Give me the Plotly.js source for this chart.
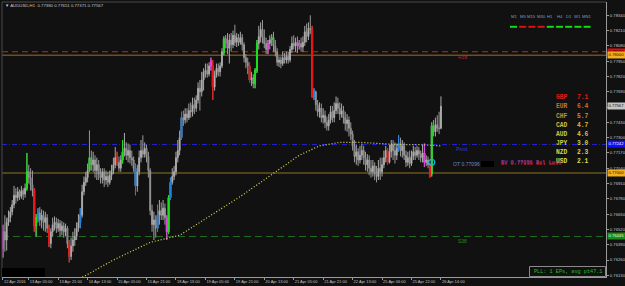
<!DOCTYPE html>
<html><head><meta charset="utf-8">
<script src="https://cdn.plot.ly/plotly-3.0.1.min.js"></script>
<style>html,body{margin:0;padding:0;background:#111111;}#chart{width:625px;height:286px;}</style>
</head><body><div id="chart"></div>
<script>
// ---- data (AUDUSD H1) ----
const O = [.7636,.7650,.7643,.7658,.7662,.7667,.7673,.7681,.7679,.7684,
.7680,.7685,.7682,.7687,.7701,.7696,.7690,.7685,.7655,.7662,
.7666,.7660,.7664,.7658,.7662,.7653,.7640,.7650,.7656,.7658,
.7653,.7657,.7651,.7655,.7650,.7653,.7640,.7629,.7638,.7643,
.7646,.7653,.7658,.7664,.7684,.7692,.7696,.7702,.7713,.7707,
.7711,.7702,.7707,.7699,.7696,.7701,.7694,.7697,.7692,.7698,
.7702,.7707,.7713,.7709,.7704,.7711,.7718,.7721,.7715,.7719,
.7713,.7711,.7704,.7689,.7701,.7713,.7719,.7716,.7721,.7714,
.7702,.7668,.7656,.7660,.7653,.7664,.7668,.7664,.7670,.7662,
.7650,.7679,.7692,.7697,.7701,.7713,.7719,.7730,.7747,.7745,
.7750,.7747,.7753,.7752,.7758,.7755,.7762,.7772,.7769,.7779,
.7786,.7787,.7784,.7791,.7791,.7773,.7783,.7789,.7786,.7791,
.7802,.7814,.7810,.7806,.7813,.7809,.7817,.7811,.7815,.7811,
.7815,.7809,.7798,.7794,.7791,.7779,.7781,.7776,.7787,.7810,
.7816,.7822,.7815,.7810,.7805,.7810,.7813,.7815,.7808,.7803,
.7794,.7796,.7793,.7798,.7796,.7799,.7796,.7805,.7810,.7808,
.7811,.7808,.7810,.7807,.7811,.7820,.7816,.7823,.7822,.7765,
.7769,.7758,.7752,.7755,.7747,.7749,.7743,.7740,.7745,.7752,
.7747,.7753,.7759,.7755,.7750,.7753,.7747,.7742,.7745,.7738,
.7733,.7723,.7714,.7718,.7711,.7715,.7719,.7713,.7707,.7711,
.7704,.7701,.7706,.7699,.7697,.7704,.7701,.7707,.7713,.7719,
.7709,.7718,.7724,.7719,.7715,.7721,.7725,.7719,.7723,.7715,
.7709,.7713,.7708,.7714,.7718,.7715,.7719,.7716,.7713,.7717,
.7709,.7711,.7707,.7699,.7740,.7735,.7741,.7738,.77380];
const H = [.7656,.7664,.7662,.7668,.7671,.7677,.7689,.7687,.7688,.7686,
.7689,.7687,.7691,.7717,.7707,.7704,.7702,.7687,.7665,.7670,
.7671,.7669,.7668,.7667,.7665,.7656,.7653,.7662,.7663,.7662,
.7661,.7660,.7659,.7658,.7657,.7655,.7643,.7645,.7650,.7653,
.7658,.7665,.7670,.7690,.7697,.7701,.7708,.7736,.7719,.7718,
.7715,.7713,.7711,.7704,.7704,.7704,.7702,.7701,.7702,.7707,
.7713,.7722,.7718,.7714,.7715,.7728,.7734,.7726,.7725,.7724,
.7719,.7714,.7708,.7707,.7719,.7728,.7732,.7726,.7724,.7718,
.7704,.7673,.7667,.7664,.7673,.7677,.7675,.7677,.7674,.7664,
.7681,.7696,.7704,.7706,.7718,.7728,.7736,.7752,.7753,.7755,
.7755,.7759,.7760,.7764,.7764,.7766,.7777,.7779,.7786,.7789,
.7793,.7793,.7794,.7798,.7796,.7787,.7793,.7793,.7794,.7806,
.7816,.7817,.7819,.7818,.7819,.7821,.7826,.7819,.7818,.7820,
.7818,.7811,.7801,.7798,.7794,.7786,.7784,.7789,.7813,.7825,
.7828,.7830,.7822,.7815,.7813,.7817,.7818,.7820,.7813,.7806,
.7799,.7799,.7803,.7802,.7803,.7803,.7808,.7816,.7817,.7815,
.7816,.7813,.7815,.7816,.7825,.7827,.7828,.7834,.7825,.7772,
.7770,.7762,.7760,.7759,.7755,.7753,.7748,.7750,.7757,.7757,
.7760,.7765,.7764,.7760,.7759,.7757,.7752,.7750,.7748,.7743,
.7736,.7728,.7724,.7721,.7723,.7725,.7723,.7718,.7716,.7715,
.7711,.7711,.7709,.7706,.7711,.7713,.7713,.7719,.7723,.7721,
.7724,.7728,.7728,.7726,.7725,.7732,.7730,.7728,.7726,.7719,
.7718,.7719,.7719,.7723,.7722,.7723,.7722,.7719,.7724,.7725,
.7715,.7714,.7708,.7743,.7745,.7747,.7749,.7752,.77651];
const L = [.7628,.7633,.7634,.7655,.7658,.7664,.7670,.7674,.7676,.7677,
.7678,.7677,.7679,.7685,.7691,.7685,.7680,.7650,.7646,.7658,
.7655,.7653,.7651,.7650,.7649,.7637,.7636,.7646,.7651,.7649,
.7650,.7646,.7647,.7645,.7646,.7636,.7624,.7626,.7633,.7638,
.7643,.7650,.7653,.7662,.7681,.7689,.7692,.7701,.7702,.7701,
.7696,.7694,.7694,.7691,.7691,.7688,.7690,.7688,.7690,.7694,
.7699,.7704,.7706,.7701,.7701,.7708,.7714,.7711,.7709,.7708,
.7706,.7701,.7681,.7684,.7698,.7709,.7713,.7713,.7709,.7696,
.7664,.7650,.7643,.7645,.7650,.7656,.7660,.7660,.7656,.7643,
.7648,.7677,.7690,.7694,.7698,.7709,.7715,.7728,.7740,.7742,
.7743,.7745,.7747,.7748,.7750,.7752,.7759,.7753,.7765,.7770,
.7781,.7781,.7782,.7787,.7762,.7770,.7781,.7782,.7782,.7789,
.7800,.7806,.7801,.7793,.7803,.7806,.7808,.7807,.7808,.7809,
.7804,.7794,.7789,.7784,.7777,.7774,.7772,.7772,.7785,.7805,
.7811,.7810,.7806,.7801,.7801,.7805,.7808,.7803,.7799,.7791,
.7790,.7789,.7791,.7793,.7793,.7793,.7794,.7802,.7805,.7803,
.7802,.7805,.7803,.7803,.7808,.7811,.7813,.7818,.7764,.7762,
.7753,.7748,.7747,.7743,.7742,.7738,.7736,.7736,.7742,.7743,
.7743,.7750,.7750,.7745,.7747,.7742,.7736,.7735,.7731,.7728,
.7719,.7709,.7707,.7706,.7708,.7711,.7707,.7702,.7701,.7698,
.7696,.7697,.7694,.7692,.7694,.7694,.7697,.7704,.7709,.7707,
.7708,.7713,.7711,.7708,.7711,.7718,.7714,.7713,.7711,.7705,
.7706,.7704,.7706,.7711,.7711,.7713,.7711,.7709,.7709,.7705,
.7706,.7704,.7696,.7697,.7731,.7731,.7735,.7733,.77371];
const C = [.7650,.7643,.7658,.7662,.7667,.7673,.7681,.7679,.7684,.7680,
.7685,.7682,.7687,.7701,.7696,.7690,.7685,.7655,.7662,.7666,
.7660,.7664,.7658,.7662,.7653,.7640,.7650,.7656,.7658,.7653,
.7657,.7651,.7655,.7650,.7653,.7640,.7629,.7638,.7643,.7646,
.7653,.7658,.7664,.7684,.7692,.7696,.7702,.7713,.7707,.7711,
.7702,.7707,.7699,.7696,.7701,.7694,.7697,.7692,.7698,.7702,
.7707,.7713,.7709,.7704,.7711,.7718,.7721,.7715,.7719,.7713,
.7711,.7704,.7689,.7701,.7713,.7719,.7716,.7721,.7714,.7702,
.7668,.7656,.7660,.7653,.7664,.7668,.7664,.7670,.7662,.7650,
.7679,.7692,.7697,.7701,.7713,.7719,.7730,.7747,.7745,.7750,
.7747,.7753,.7752,.7758,.7755,.7762,.7772,.7769,.7779,.7786,
.7787,.7784,.7791,.7795,.7773,.7783,.7789,.7786,.7791,.7803,
.7814,.7810,.7806,.7813,.7809,.7817,.7811,.7815,.7811,.7815,
.7809,.7798,.7794,.7791,.7779,.7781,.7776,.7787,.7810,.7816,
.7822,.7815,.7810,.7805,.7810,.7813,.7815,.7808,.7803,.7794,
.7796,.7793,.7798,.7796,.7799,.7796,.7805,.7810,.7808,.7811,
.7808,.7810,.7807,.7811,.7820,.7816,.7823,.7822,.7765,.7769,
.7758,.7752,.7755,.7747,.7749,.7743,.7740,.7745,.7752,.7747,
.7753,.7759,.7755,.7750,.7753,.7747,.7742,.7745,.7738,.7733,
.7723,.7714,.7718,.7711,.7715,.7719,.7713,.7707,.7711,.7704,
.7701,.7706,.7699,.7697,.7704,.7701,.7707,.7713,.7719,.7709,
.7718,.7724,.7719,.7715,.7721,.7725,.7719,.7723,.7715,.7709,
.7713,.7708,.7714,.7718,.7715,.7719,.7716,.7713,.7717,.7709,
.7711,.7707,.7697,.7740,.7735,.7741,.7738,.7738,.77567];

// bars highlighted by the signal indicator
const magentaBars = [0, 89, 113, 121, 144, 161, 229];
const greenBars   = [13, 18, 47, 65, 90, 120, 137, 138, 146, 233];
const redBars     = [17, 25, 36, 62, 114, 134, 168, 209, 232];
const blueBars    = [19, 42, 72, 84, 91, 97, 169, 215];

// slow moving average (dotted)
const maBar = [40, 44, 60, 80, 96, 107, 118, 129, 140, 151, 161, 172, 183, 194, 205, 216, 227, 238];
const maVal = [.7610, .7612, .7626, .7641, .7647, .7658, .7669, .7680, .7692, .7704, .7715, .7723, .7726, .7726, .7725, .7724, .7724, .7723];

// x-axis labels
const xTickBar  = [0, 14, 30, 46, 62, 78, 94, 110, 126, 142, 158, 174, 190, 206, 222, 238];
const xTickText = ["12 Apr 2016","13 Apr 05:00","13 Apr 21:00","14 Apr 13:00","15 Apr 05:00","15 Apr 21:00",
  "18 Apr 13:00","19 Apr 05:00","19 Apr 21:00","20 Apr 13:00","21 Apr 05:00","21 Apr 21:00",
  "22 Apr 13:00","25 Apr 06:00","25 Apr 22:00","26 Apr 14:00"];
// y-axis labels
const yTicks = [0.76130,0.76260,0.76390,0.76520,0.76650,0.76780,0.76910,0.77040,0.77170,
  0.77300,0.77430,0.77560,0.77690,0.77820,0.77950,0.78080,0.78210,0.78340];

// horizontal levels
const levelPrice = [0.78030, 0.78000, 0.77242, 0.77000, 0.76460];
const levelLabel = ["0.78030", "0.78000", "0.77242", "0.77000", "0.76445"];
const levelColor = ["#c02626", "#66531c", "#2222d0", "#66531c", "#1f6f1f"];
const levelDash  = ["6px,4px", "solid", "5px,2px,1px,2px", "solid", "7px,4px"];
const levelWidth = [1, 1.6, 1, 1.6, 1];
const levelBoxBg = ["#e01010", "#f0b020", "#1010f0", "#f0b020", "#1a8a1a"];
const levelBoxFg = ["#200000", "#201000", "#ffffff", "#201000", "#e0ffe0"];
const lastPrice = 0.77567;

// currency strength panel
const ccy = ["GBP","EUR","CHF","CAD","AUD","JPY","NZD","USD"];
const ccyStrength = [7.1, 6.4, 5.7, 4.7, 4.6, 3.0, 2.3, 2.1];
const ccyColor = ["#e01c1c","#cf6e2a","#cf8a2a","#d6bc44","#d6c448","#cfcc40","#d8d448","#dedc4c"];

// timeframe trend panel
const tfName = ["M1","M5","M15","M30","H1","H4","D1","W1","MN1"];
const tfUp   = [1, 0, 0, 0, 1, 1, 1, 1, 1];

const barX = O.map((_, i) => i);

// ---- geometry helpers (pixel -> paper) ----
const PL = 2, PR = 606, PT = 2, PB = 277;
const px = x => (x - PL) / (PR - PL);
const py = y => 1 - (y - PT) / (PB - PT);

function candles(idx, col, lineCol) {
  return {
    type: 'candlestick', x: idx.map(i => barX[i]),
    open: idx.map(i => O[i]), high: idx.map(i => H[i]), low: idx.map(i => L[i]), close: idx.map(i => C[i]),
    increasing: {line: {color: lineCol || col, width: 1}, fillcolor: col},
    decreasing: {line: {color: lineCol || col, width: 1}, fillcolor: col},
    whiskerwidth: 0, hoverinfo: 'skip', showlegend: false
  };
}

const base = {
  type: 'candlestick', x: barX, open: O, high: H, low: L, close: C,
  increasing: {line: {color: '#a9a9a9', width: 1}, fillcolor: '#eeeeee'},
  decreasing: {line: {color: '#9a9a9a', width: 1}, fillcolor: '#4a4a4a'},
  whiskerwidth: 0, hoverinfo: 'skip', showlegend: false
};

const traces = [
  {type: 'scatter', mode: 'lines', x: maBar, y: maVal, line: {color: '#dede5a', width: 1.2, dash: '1px,2px'}, hoverinfo: 'skip'},
  base,
  candles(magentaBars, '#e040e0'),
  candles(greenBars, '#18e018'),
  candles(redBars, '#ee1010'),
  candles(blueBars, '#1e7fe0'),
  {type: 'scatter', mode: 'markers', x: [barX[233]], y: [0.7709],
   marker: {symbol: 'circle-open', size: 6, color: '#10b8ff', line: {width: 1.2, color: '#10b8ff'}}, hoverinfo: 'skip'}
];

const shapes = [];
levelPrice.forEach((p, k) => {
  shapes.push({type: 'line', xref: 'paper', x0: 0, x1: 1, yref: 'y', y0: p, y1: p, layer: 'below',
    line: {color: levelColor[k], width: levelWidth[k], dash: levelDash[k]}});
});
// frame top/left
shapes.push({type: 'line', xref: 'paper', yref: 'paper', x0: 0, x1: 1, y0: 1, y1: 1, line: {color: '#4a4a4a', width: 1}});
shapes.push({type: 'line', xref: 'paper', yref: 'paper', x0: 0, x1: 0, y0: 0, y1: 1, line: {color: '#4a4a4a', width: 1}});
// timeframe dashes
tfName.forEach((n, k) => {
  const cx = 513.5 + k * 9.2;
  shapes.push({type: 'line', xref: 'paper', yref: 'paper', x0: px(cx - 3.5), x1: px(cx + 3.5), y0: py(26.8), y1: py(26.8),
    line: {color: tfUp[k] ? '#10dd10' : '#dd1010', width: 2}});
});
// black box bottom-left, black box after OT text
shapes.push({type: 'rect', xref: 'paper', yref: 'paper', x0: px(2), x1: px(45), y0: py(277), y1: py(268), fillcolor: '#000000', line: {width: 0}});
shapes.push({type: 'rect', xref: 'paper', yref: 'paper', x0: px(481), x1: px(494), y0: py(167), y1: py(161), fillcolor: '#000000', line: {width: 0}});
// PLL box
shapes.push({type: 'rect', xref: 'paper', yref: 'paper', x0: px(529.5), x1: px(605.5), y0: py(276.5), y1: py(266.5), fillcolor: '#111111', line: {color: '#8a8a8a', width: 1}});

const ann = [];
function txt(t, x, y, color, size, fam, extra) {
  ann.push(Object.assign({text: t, xref: 'paper', yref: 'paper', x: px(x), y: py(y), xanchor: 'left', yanchor: 'middle',
    showarrow: false, font: {color: color, size: size, family: fam || 'Liberation Sans, Arial, sans-serif'}}, extra || {}));
}
txt('▼ AUDUSD,H1  0.77380 0.77651 0.77371 0.77567', 3, 5.6, '#c8c8c8', 4.3);
tfName.forEach((n, k) => {
  ann.push({text: n, xref: 'paper', yref: 'paper', x: px(513.5 + k * 9.2), y: py(16.6), xanchor: 'center', yanchor: 'middle',
    showarrow: false, font: {color: '#7f9cc8', size: 4.2, family: 'Liberation Sans, Arial'}});
});
ccy.forEach((c, k) => {
  const y = 97.7 + k * 9.15;
  txt('<b>' + c + '</b>', 553.5, y, ccyColor[k], 6.3, 'Liberation Mono, monospace');
  txt('<b>' + ccyStrength[k].toFixed(1) + '</b>', 574.5, y, ccyColor[k], 6.3, 'Liberation Mono, monospace');
});
txt('R38', 456, 57.5, '#c82020', 5);
txt('S38', 456, 240.5, '#2a8a2a', 5);
txt('Pivot', 454, 148.5, '#2a3cd8', 5.2);
txt('OT 0.77096', 451, 164.2, '#6a88c4', 5.1);
txt('BV 0.77096 Bcl Lose', 499, 162.8, '#b040c0', 5.3, 'Liberation Mono, monospace');
txt('SV 0.77138 Bcl Loss', 499, 163.8, '#d02030', 5.3, 'Liberation Mono, monospace');
txt('PLL: 1 EPs, avg pt47.1', 531.5, 271.8, '#22c022', 5.2, 'Liberation Mono, monospace');

// price boxes on the right axis
function priceBox(p, t, bg, fg) {
  ann.push({text: t, xref: 'paper', yref: 'y', x: 1, y: p, xanchor: 'left', yanchor: 'middle', xshift: 1,
    showarrow: false, bgcolor: bg, borderpad: 0.4, font: {color: fg, size: 4.2, family: 'Liberation Sans, Arial'}});
}
levelPrice.forEach((p, k) => priceBox(p, levelLabel[k], levelBoxBg[k], levelBoxFg[k]));
priceBox(lastPrice, lastPrice.toFixed(5), '#c4c4c4', '#101010');

const layout = {
  width: 625, height: 286,
  margin: {l: PL, r: 625 - PR, t: PT, b: 286 - PB, pad: 0},
  paper_bgcolor: '#111111', plot_bgcolor: '#111111',
  showlegend: false, hovermode: false,
  xaxis: {range: [-0.54, 327.7], tickvals: xTickBar, ticktext: xTickText, tickangle: 0, ticks: 'outside', ticklen: 2, tickwidth: 1,
    tickcolor: '#9a9a9a', ticklabelposition: 'outside right', tickfont: {size: 4, color: '#c4c4c4', family: 'Liberation Sans, Arial'},
    showgrid: false, zeroline: false, showline: true, linecolor: '#9a9a9a', linewidth: 1, rangeslider: {visible: false}, fixedrange: true, automargin: false},
  yaxis: {side: 'right', range: [0.761155, 0.78453], tickvals: yTicks, ticktext: yTicks.map(v => v.toFixed(5)),
    ticks: 'outside', ticklen: 2, tickcolor: '#9a9a9a', tickfont: {size: 4.2, color: '#c4c4c4', family: 'Liberation Sans, Arial'},
    showgrid: false, zeroline: false, showline: true, linecolor: '#9a9a9a', linewidth: 1, fixedrange: true, automargin: false},
  shapes: shapes, annotations: ann
};
Plotly.newPlot('chart', traces, layout, {staticPlot: true, displayModeBar: false});
</script></body></html>
